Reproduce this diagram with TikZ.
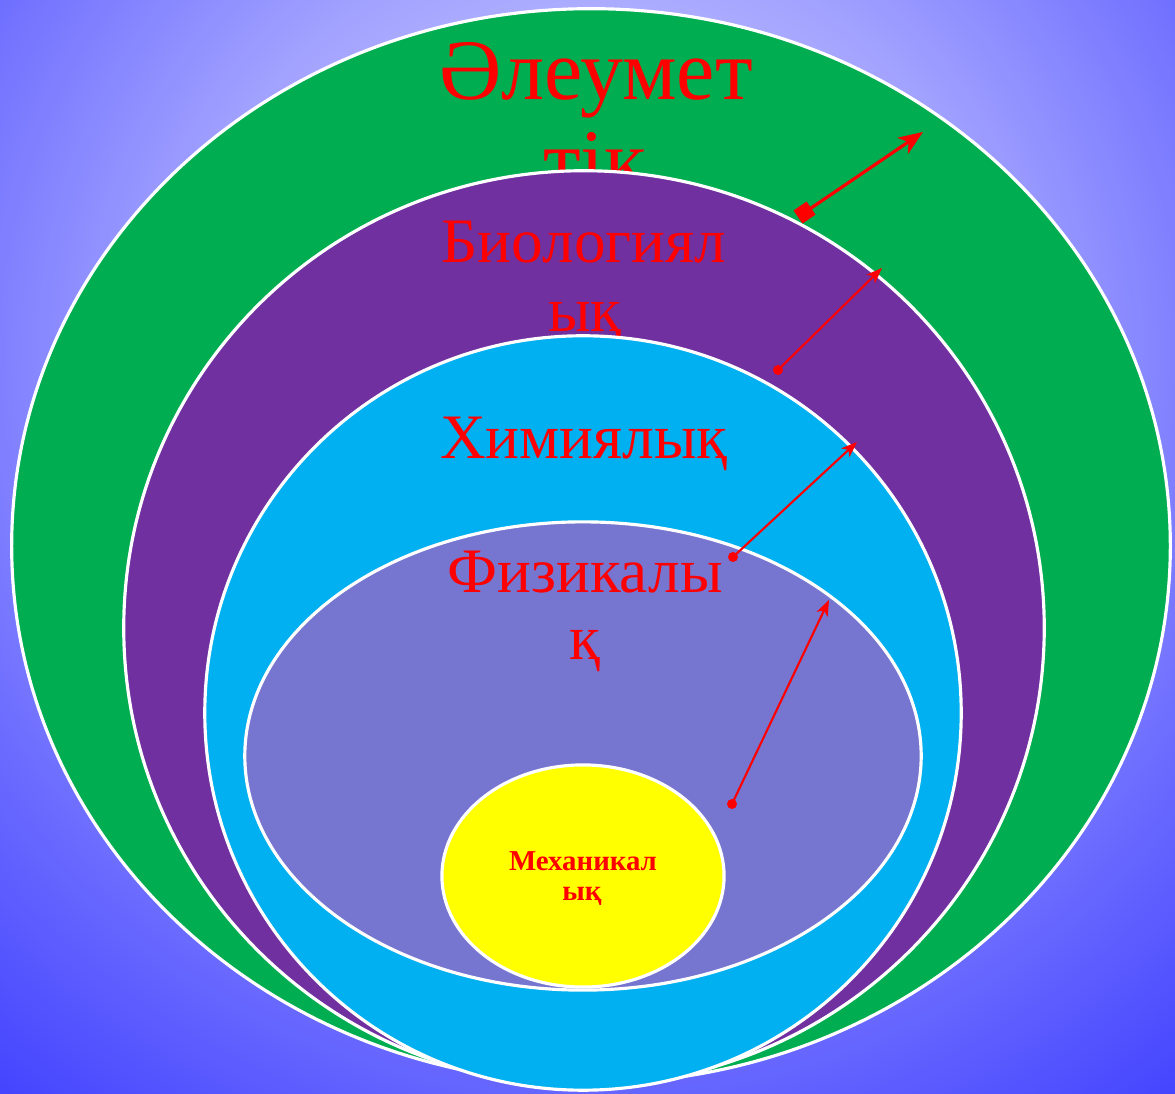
\documentclass[tikz,border=0pt]{standalone}
\usepackage{fontspec}
\setmainfont{Liberation Serif}
\usetikzlibrary{arrows.meta,shapes.geometric}
\definecolor{bgin}{RGB}{216,216,255}
\definecolor{bgmid}{RGB}{164,164,255}
\definecolor{bgfar}{RGB}{108,108,255}
\definecolor{bgout}{RGB}{60,60,255}
\definecolor{socgreen}{RGB}{0,173,80}
\definecolor{biopurple}{RGB}{112,48,160}
\definecolor{chemcyan}{RGB}{0,176,240}
\definecolor{physlav}{RGB}{118,118,208}
\definecolor{mechyellow}{RGB}{255,255,0}
\pgfdeclareradialshading{bgglow}{\pgfpoint{0bp}{0bp}}{color(0bp)=(bgin); color(10bp)=(bgmid); color(17.5bp)=(bgfar); color(25bp)=(bgout); color(50bp)=(bgout)}
\begin{document}
\begin{tikzpicture}[x=0.01cm,y=0.01cm,
  ring/.style={ellipse,draw=white,line width=0.9pt,inner sep=0pt},
  lbl/.style={text=red,anchor=base,inner sep=0pt},
  big/.style={lbl,font=\fontsize{24.5}{26}\selectfont},
  mid/.style={lbl,font=\fontsize{18}{19}\selectfont},
  small/.style={lbl,font=\fontsize{8.2}{9}\selectfont\bfseries},
  dot/.style={circle,fill=red,inner sep=0pt,minimum size=0.1cm},
  link/.style={red,line width=0.6pt,-{Stealth[length=4.5pt,width=3.4pt,inset=1.2pt]}}]
\useasboundingbox (0,0) rectangle (1175,1094);
\begin{scope}
\clip (0,0) rectangle (1175,1094);
\shade[shading=bgglow] (590,744) circle (1000);
\end{scope}
\node[ring,fill=socgreen,minimum width=11.58cm,minimum height=10.74cm] (soc) at (591,548) {};
\node[big] (soc1) at (596,994) {Әлеумет}; \node[big] (soc2) at (595,904) {тік};
\node[ring,fill=biopurple,minimum width=9.20cm,minimum height=9.14cm] (bio) at (584,466) {};
\node[mid] (bio1) at (584,831) {Биологиял}; \node[mid] (bio2) at (585,762) {ық};
\node[ring,fill=chemcyan,minimum width=7.56cm,minimum height=7.54cm] (chem) at (583,381) {};
\node[mid] (chem1) at (584,635) {Химиялық};
\node[ring,fill=physlav,minimum width=6.76cm,minimum height=4.68cm] (phys) at (583,338) {};
\node[mid] (phys1) at (585,501) {Физикалы}; \node[mid] (phys2) at (585,434) {қ};
\node[ring,fill=mechyellow,minimum width=2.82cm,minimum height=2.22cm] (mech) at (583,218) {};
\node[small] (mech1) at (583,223) {Механикал}; \node[small] (mech2) at (582,193) {ық};
\coordinate (s1) at (798,877); \coordinate (t1) at (923,962);
\node[dot] (d2) at (778,724) {}; \coordinate (t2) at (882,826);
\node[dot] (d3) at (733,537) {}; \coordinate (t3) at (857,652);
\node[dot] (d4) at (732,290) {}; \coordinate (t4) at (829,494);
\draw[red,line width=0.9pt,{Square[length=4.5pt,width=4.5pt]}-{Stealth[length=7pt,width=5.5pt,inset=2pt]}] (s1) -- (t1);
\draw[link] (d2.center) -- (t2); \draw[link] (d3.center) -- (t3); \draw[link] (d4.center) -- (t4);
\end{tikzpicture}
\end{document}
